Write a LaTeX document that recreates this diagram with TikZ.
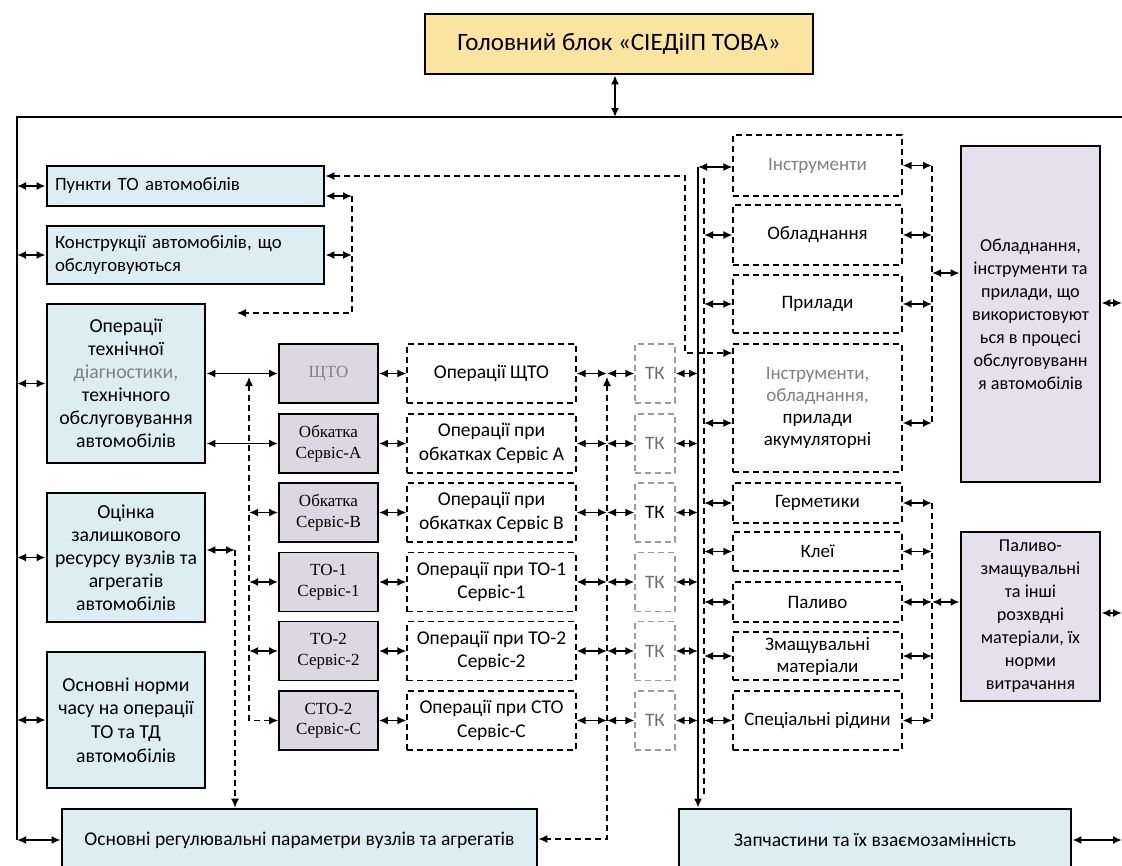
\documentclass[tikz,border=0pt]{standalone}
\usepackage{fontspec}
\setmainfont{Carlito}
\newfontfamily\tnr{Liberation Serif}
\usetikzlibrary{arrows.meta}
\definecolor{lblue}{HTML}{DCEEF3}
\definecolor{lav}{HTML}{E5E0EC}
\definecolor{gfill}{HTML}{DCD8E2}
\definecolor{ylw}{HTML}{FBE3A0}
\definecolor{tkgray}{HTML}{9A9A9A}
\newcommand{\fsz}[2]{\fontsize{#1}{#2}\selectfont}
\begin{document}
\begin{tikzpicture}[x=1pt,y=-1pt,
  lbox/.style={draw, line width=2.8pt, fill=lblue, inner sep=2pt, align=center, font=\fsz{19.8}{23}},
  bigbox/.style={draw, line width=2.8pt, fill=lav, inner sep=2pt, align=center, font=\fsz{18.2}{23}},
  gbox/.style={draw, line width=1.8pt, fill=gfill, inner sep=1pt, align=center, minimum width=99pt, minimum height=59pt, font=\tnr\fsz{17}{20.5}},
  obox/.style={draw, line width=1.1pt, dash pattern=on 6pt off 4pt, inner sep=1pt, align=center, minimum width=169pt, minimum height=59pt, font=\fsz{19.5}{23.5}},
  tkbox/.style={draw=tkgray, line width=1.1pt, dash pattern=on 6pt off 4pt, inner sep=1pt, minimum width=40pt, minimum height=59pt, text=tkgray!70!black, font=\fsz{19}{22}},
  rbox/.style={draw, line width=1.1pt, dash pattern=on 6pt off 4pt, inner sep=1pt, align=center, minimum width=169pt, font=\fsz{19}{22}},
  dbl/.style={line width=1.8pt, {Latex[length=9pt,width=8pt]}-{Latex[length=9pt,width=8pt]}},
  dsh/.style={line width=1.2pt, dash pattern=on 6pt off 4pt},
  tipboth/.style={{Latex[length=9pt,width=8pt]}-{Latex[length=9pt,width=8pt]}},
  tipend/.style={-{Latex[length=9pt,width=8pt]}},
]
\useasboundingbox (0,0) rectangle (1122,865);
\fill[white] (0,0) rectangle (1122,865);

% head
\node[lbox, fill=ylw, minimum width=388pt, minimum height=60pt, font=\fsz{25}{29}] (head) at (619,44) {Головний блок «СІЕДіІП ТОВА»};

% left boxes
\node[lbox, text width=261pt, align=left, inner xsep=8pt, minimum height=40pt, font=\fsz{18.8}{22.5}] (p1) at (185.5,186) {Пункти ТО автомобілів};
\node[lbox, text width=261pt, align=left, inner xsep=8pt, minimum height=58pt, font=\fsz{18.8}{22.5}] (p2) at (185.5,255) {Конструкції автомобілів, що\\обслуговуються};
\node[lbox, minimum width=158pt, minimum height=159pt] (p3) at (126,383.5) {Операції\\технічної\\{\color{gray}діагностики,}\\технічного\\обслуговування\\автомобілів};
\node[lbox, minimum width=158pt, minimum height=129pt] (p4) at (126,557.5) {Оцінка\\залишкового\\ресурсу вузлів та\\агрегатів\\автомобілів};
\node[lbox, minimum width=158pt, minimum height=136pt, font=\fsz{19.8}{23.7}] (p5) at (126,720) {Основні норми\\часу на операції\\ТО та ТД\\автомобілів};

% bottom boxes
\node[lbox, minimum width=475pt, minimum height=62pt, font=\fsz{19.5}{22}] (b1) at (299.5,840) {Основні регулювальні параметри вузлів та агрегатів};
\node[lbox, minimum width=392pt, minimum height=62pt, font=\fsz{19.5}{22}] (b2) at (875,840) {Запчастини та їх взаємозамінність};

% gray boxes
\node[gbox, text=gray] (g1) at (328.5,373.5) {ЩТО};
\node[gbox] (g2) at (328.5,443.5) {Обкатка\\Сервіс-А};
\node[gbox] (g3) at (328.5,512.5) {Обкатка\\Сервіс-В};
\node[gbox] (g4) at (328.5,582) {ТО-1\\Сервіс-1};
\node[gbox] (g5) at (328.5,651) {ТО-2\\Сервіс-2};
\node[gbox] (g6) at (328.5,720.5) {СТО-2\\Сервіс-С};

% operation boxes
\node[obox] (o1) at (491.5,373.5) {Операції ЩТО};
\node[obox] (o2) at (491.5,443.5) {Операції при\\обкатках Сервіс А};
\node[obox] (o3) at (491.5,512.5) {Операції при\\обкатках Сервіс В};
\node[obox] (o4) at (491.5,582) {Операції при ТО-1\\Сервіс-1};
\node[obox] (o5) at (491.5,651) {Операції при ТО-2\\Сервіс-2};
\node[obox] (o6) at (491.5,720.5) {Операції при СТО\\Сервіс-С};

% TK boxes
\node[tkbox] (t1) at (655,373.5) {ТК};
\node[tkbox] (t2) at (655,443.5) {ТК};
\node[tkbox, text=black] (t3) at (655,512.5) {ТК};
\node[tkbox] (t4) at (655,582) {ТК};
\node[tkbox] (t5) at (655,651) {ТК};
\node[tkbox] (t6) at (655,720.5) {ТК};

% right column
\node[rbox, minimum height=61pt, text=gray] (r1) at (817.5,165.5) {Інструменти};
\node[rbox, minimum height=60pt] (r2) at (817.5,235) {Обладнання};
\node[rbox, minimum height=58pt] (r3) at (817.5,304) {Прилади};
\node[rbox, minimum height=128pt] (r4) at (817.5,408) {{\color{gray}Інструменти,}\\{\color{gray}обладнання,}\\прилади\\акумуляторні};
\node[rbox, minimum height=40pt] (r5) at (817.5,503) {Герметики};
\node[rbox, minimum height=39pt] (r6) at (817.5,551.5) {Клеї};
\node[rbox, minimum height=40pt] (r7) at (817.5,602) {Паливо};
\node[rbox, minimum height=48pt] (r8) at (817.5,656) {Змащувальні\\матеріали};
\node[rbox, minimum height=59pt] (r9) at (817.5,720.5) {Спеціальні рідини};

% big right boxes
\node[bigbox, minimum width=139pt, minimum height=336pt] (R1) at (1030.5,314) {Обладнання,\\інструменти та\\прилади, що\\використовуют\\ься в процесі\\обслуговуванн\\я автомобілів};
\node[bigbox, minimum width=139pt, minimum height=169pt] (R2) at (1030.5,616.5) {Паливо-\\змащувальні\\та інші\\розхвдні\\матеріали, їх\\норми\\витрачання};

% ---------- connectors ----------
\coordinate (BL) at (17,117);
\coordinate (BR) at (1122,117);
\coordinate (BB) at (17,840);
\coordinate (HT) at (615,117);
\draw[line width=2pt] (BR) -- (BL) -- (BB);
\draw[dbl] (BB) -- (b1.west);
\draw[dbl] (head.south -| HT) -- (HT);
\foreach \n in {p1,p2,p3,p4,p5}{\draw[dbl] (BL |- \n.west) -- (\n.west);}

% right edge
\coordinate (RE1) at (1122,303);
\coordinate (RE2) at (1122,613);
\coordinate (RE3) at (1122,840);
\draw[dbl] (R1.east |- RE1) -- (RE1);
\draw[dbl] (R2.east |- RE2) -- (RE2);
\draw[dbl] (b2.east) -- (RE3);

% Punkty TO dashed link
\coordinate (d1) at (685,176);
\coordinate (d2) at (685,353);
\draw[dsh, tipboth] (p1.east |- d1) -- (d1) -- (d2) -- (r4.west |- d2);

% Punkty TO lower / Konstruktsii
\coordinate (e1) at (352,196);
\coordinate (e2) at (352,313);
\coordinate (e3) at (237,313);
\draw[dbl] (p1.east |- e1) -- (e1);
\draw[dbl] (p2.east) -- (p2.east -| e1);
\draw[dsh, tipend] (e1) -- (e2) -- (e3);

% box 3 to gray boxes
\draw[dbl] (p3.east |- g1) -- (g1.west);
\draw[dbl] (p3.east |- g2) -- (g2.west);

% dashed x=249
\coordinate (f1) at (249,377);
\coordinate (f2) at (249,720.5);
\draw[dsh, tipboth] (f1) -- (f2) -- (g6.west);
\draw[dbl] (f1 |- g3) -- (g3.west);
\draw[dbl] (f1 |- g4) -- (g4.west);
\draw[dbl] (f1 |- g5) -- (g5.west);

% box 4 to bottom box
\coordinate (h1) at (235,550);
\draw[dbl] (p4.east |- h1) -- (h1);
\draw[dsh, tipend] (h1) -- (h1 |- b1.north);

% gray <-> operations
\foreach \i in {1,...,6}{\draw[dbl] (g\i.east) -- (o\i.west);}

% operations <-> TK via dashed x=607
\coordinate (V1) at (607,377);
\coordinate (V2) at (607,839);
\draw[dsh, tipboth] (V1) -- (V2) -- (b1.east |- V2);
\foreach \i in {1,...,6}{
  \draw[dbl] (o\i.east) -- (o\i.east -| V1);
  \draw[dbl] (o\i.east -| V1) -- (t\i.west);
}

% solid bus x=698 and dashed bus x=704
\coordinate (S1) at (698,167);
\coordinate (D1) at (704,178);
\coordinate (D2) at (704,798);
\draw[line width=1.8pt, tipend] (S1) -- (S1 |- b2.north);
\draw[dsh] (D1) -- (D2);
\draw[dbl] (S1) -- (S1 -| r1.west);
\foreach \i in {1,...,6}{\draw[dbl] (t\i.east) -- (t\i.east -| S1);}
\foreach \n in {r2,r3,r5,r6,r7,r8,r9}{\draw[dbl] (\n.west -| D1) -- (\n.west);}
\coordinate (r4a) at (704,423);
\draw[dbl] (r4a) -- (r4a -| r4.west);

% dashed buses x=932
\coordinate (Q1) at (932,165.5);
\coordinate (Q2) at (932,423);
\coordinate (Q3) at (932,503);
\coordinate (Q4) at (932,720.5);
\coordinate (Q5) at (932,273);
\coordinate (Q6) at (932,602);
\draw[dsh] (Q1) -- (Q2);
\draw[dsh] (Q3) -- (Q4);
\foreach \n in {r1,r2,r3,r5,r6,r7,r8,r9}{\draw[dbl] (\n.east) -- (\n.east -| Q1);}
\draw[dbl] (r4.east |- Q2) -- (Q2);
\draw[dbl] (Q5) -- (Q5 -| R1.west);
\draw[dbl] (Q6) -- (Q6 -| R2.west);
\end{tikzpicture}
\end{document}
